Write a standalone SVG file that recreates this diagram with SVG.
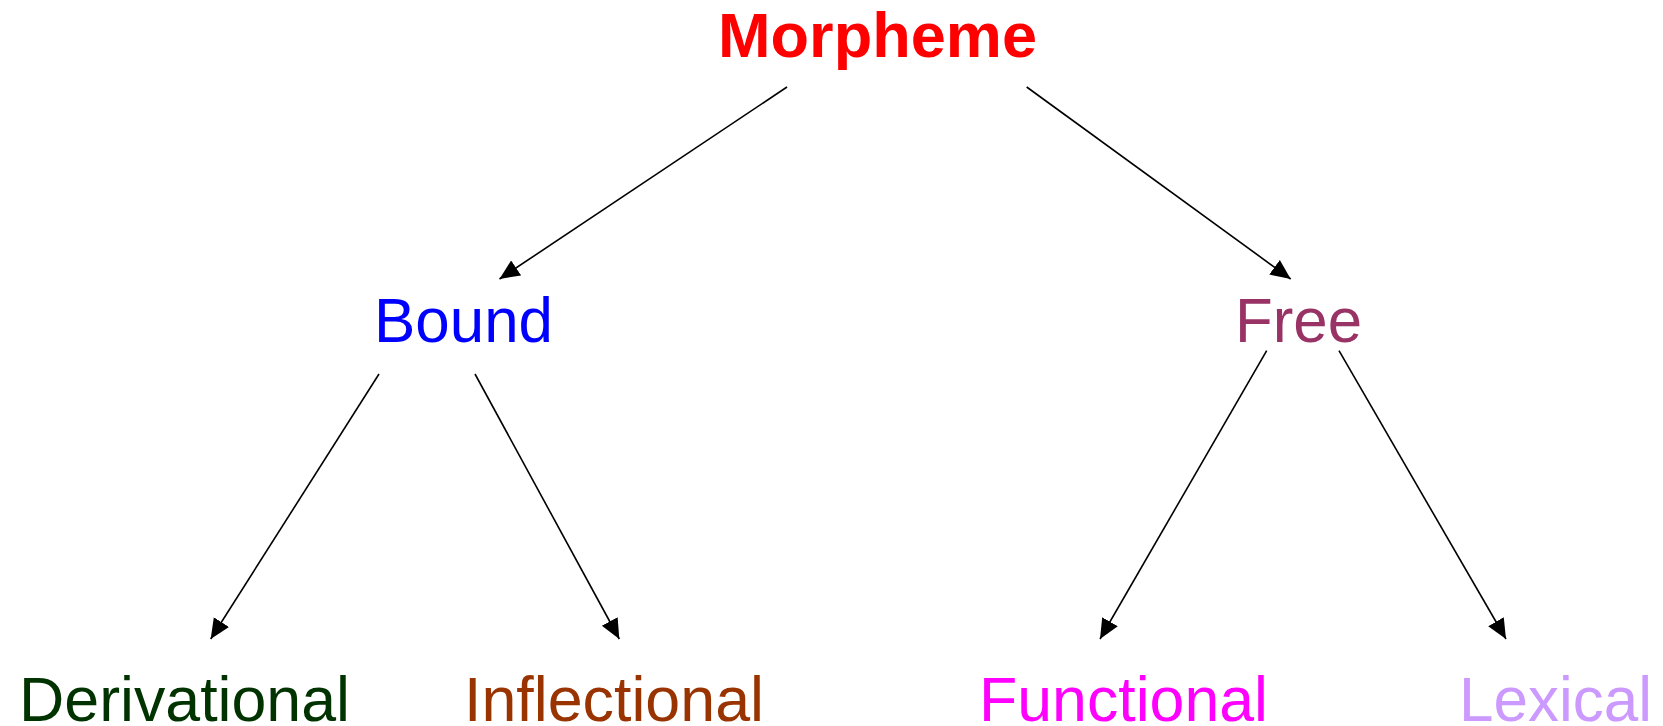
<svg xmlns="http://www.w3.org/2000/svg" width="1663" height="726" viewBox="0 0 1663 726">
<style>
text{font-family:"Liberation Sans",Arial,sans-serif;font-size:63px}
.c{stroke:#000;stroke-width:1.6;fill:none}
</style>
<defs>
<marker id="ah" markerUnits="userSpaceOnUse" markerWidth="21" markerHeight="19" refX="20" refY="9" orient="auto" viewBox="0 0 21 19">
<path d="M0,0 L20,9 L0,18 z" fill="#000"/>
</marker>
</defs>
<rect width="1663" height="726" fill="#fff"/>
<g id="connectors">
<line class="c" x1="787" y1="87" x2="499.5" y2="279" marker-end="url(#ah)"/>
<line class="c" x1="1026.7" y1="87" x2="1290.7" y2="279" marker-end="url(#ah)"/>
<line class="c" x1="379" y1="374" x2="210.7" y2="639" marker-end="url(#ah)"/>
<line class="c" x1="475" y1="374" x2="619.3" y2="639" marker-end="url(#ah)"/>
<line class="c" x1="1266.7" y1="350.7" x2="1100" y2="639" marker-end="url(#ah)"/>
<line class="c" x1="1339" y1="350.7" x2="1506" y2="639" marker-end="url(#ah)"/>
</g>
<g id="morpheme"><text x="718" y="57" font-weight="bold" fill="#FF0000" textLength="319" lengthAdjust="spacingAndGlyphs">Morpheme</text></g>
<g id="bound"><text x="374" y="342" fill="#0000FF" font-size="65" textLength="179" lengthAdjust="spacingAndGlyphs">Bound</text></g>
<g id="free"><text x="1235" y="342" fill="#993366" font-size="65" textLength="127" lengthAdjust="spacingAndGlyphs">Free</text></g>
<g id="derivational"><text x="19" y="721" fill="#003300" textLength="331" lengthAdjust="spacingAndGlyphs">Derivational</text></g>
<g id="inflectional"><text x="464" y="721" fill="#993300" textLength="300" lengthAdjust="spacingAndGlyphs">Inflectional</text></g>
<g id="functional"><text x="979" y="721" fill="#FF00FF" textLength="289" lengthAdjust="spacingAndGlyphs">Functional</text></g>
<g id="lexical"><text x="1459" y="721" fill="#CC99FF" textLength="193" lengthAdjust="spacingAndGlyphs">Lexical</text></g>
</svg>
